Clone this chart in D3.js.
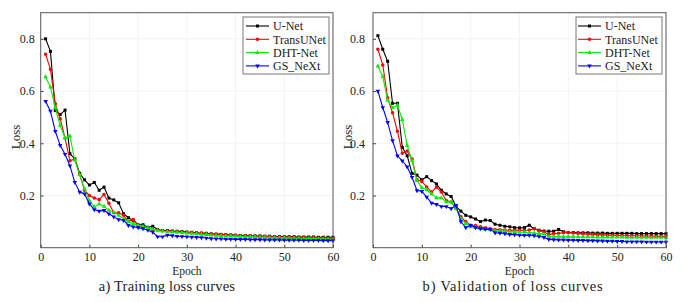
<!DOCTYPE html>
<html><head><meta charset="utf-8">
<script src="https://cdn.jsdelivr.net/npm/d3@7"></script>
<style>body{margin:0;background:#fff}svg{display:block}text{font-family:"Liberation Serif","Times New Roman",serif}</style>
</head><body>
<svg id="c" width="685" height="302"></svg>
<script>
const seriesNames = ["U-Net","TransUNet","DHT-Net","GS_NeXt"];
const epochs = d3.range(1,61);
const xTicks = [0,10,20,30,40,50,60];
const yTicks = [0.2,0.4,0.6,0.8];
const captions = ["a) Training loss curves","b) Validation of loss curves"];

const trainUNet = [0.800,0.752,0.525,0.510,0.527,0.360,0.340,0.285,0.260,0.240,0.250,0.220,0.232,0.190,0.183,0.172,0.130,0.115,0.104,0.088,0.088,0.078,0.082,0.070,0.066,0.066,0.064,0.063,0.062,0.060,0.059,0.057,0.056,0.055,0.053,0.052,0.051,0.050,0.049,0.048,0.047,0.047,0.046,0.045,0.045,0.044,0.044,0.043,0.043,0.042,0.042,0.042,0.041,0.041,0.041,0.041,0.040,0.040,0.040,0.040];
const trainTrans = [0.741,0.683,0.551,0.494,0.420,0.333,0.340,0.280,0.220,0.200,0.190,0.184,0.204,0.170,0.134,0.134,0.124,0.100,0.108,0.086,0.080,0.075,0.070,0.068,0.065,0.064,0.063,0.061,0.060,0.058,0.057,0.056,0.055,0.054,0.052,0.051,0.050,0.049,0.048,0.047,0.046,0.046,0.045,0.044,0.043,0.043,0.042,0.042,0.041,0.041,0.040,0.040,0.039,0.039,0.038,0.038,0.037,0.037,0.036,0.036];
const trainDHT = [0.654,0.615,0.536,0.468,0.420,0.427,0.335,0.280,0.225,0.180,0.156,0.168,0.158,0.143,0.136,0.124,0.110,0.100,0.092,0.086,0.082,0.076,0.071,0.066,0.063,0.062,0.060,0.059,0.058,0.056,0.055,0.053,0.051,0.050,0.048,0.047,0.046,0.045,0.045,0.044,0.043,0.042,0.042,0.041,0.040,0.040,0.039,0.039,0.038,0.038,0.037,0.036,0.036,0.035,0.035,0.034,0.034,0.033,0.033,0.032];
const trainGS = [0.561,0.523,0.446,0.392,0.358,0.314,0.250,0.213,0.206,0.168,0.146,0.140,0.143,0.130,0.118,0.108,0.105,0.086,0.080,0.077,0.073,0.067,0.060,0.042,0.042,0.048,0.046,0.044,0.043,0.042,0.041,0.040,0.039,0.037,0.035,0.034,0.034,0.033,0.033,0.032,0.032,0.032,0.031,0.031,0.031,0.030,0.030,0.030,0.030,0.029,0.029,0.029,0.029,0.028,0.028,0.028,0.028,0.027,0.027,0.027];

const valUNet = [0.812,0.760,0.714,0.553,0.553,0.384,0.352,0.285,0.278,0.260,0.272,0.257,0.244,0.220,0.206,0.196,0.158,0.140,0.124,0.118,0.110,0.100,0.106,0.104,0.090,0.086,0.082,0.080,0.077,0.076,0.077,0.086,0.073,0.067,0.064,0.063,0.063,0.070,0.061,0.058,0.058,0.057,0.057,0.057,0.056,0.056,0.056,0.055,0.055,0.055,0.055,0.055,0.055,0.054,0.054,0.054,0.054,0.054,0.054,0.054];
const valTrans = [0.760,0.700,0.574,0.517,0.446,0.362,0.370,0.340,0.260,0.254,0.232,0.213,0.232,0.213,0.181,0.175,0.150,0.118,0.100,0.086,0.085,0.080,0.076,0.073,0.070,0.069,0.068,0.067,0.067,0.067,0.067,0.068,0.073,0.065,0.061,0.050,0.054,0.055,0.057,0.058,0.056,0.055,0.053,0.052,0.051,0.050,0.049,0.048,0.048,0.047,0.047,0.046,0.046,0.046,0.045,0.045,0.045,0.044,0.044,0.044];
const valDHT = [0.695,0.655,0.565,0.536,0.546,0.490,0.392,0.333,0.257,0.230,0.222,0.206,0.191,0.191,0.175,0.175,0.150,0.111,0.092,0.080,0.077,0.073,0.071,0.070,0.065,0.064,0.063,0.062,0.061,0.060,0.059,0.058,0.056,0.054,0.052,0.043,0.043,0.043,0.042,0.042,0.042,0.041,0.041,0.041,0.041,0.040,0.040,0.040,0.040,0.040,0.040,0.039,0.039,0.039,0.039,0.039,0.039,0.039,0.039,0.039];
const valGS = [0.600,0.537,0.480,0.410,0.352,0.333,0.310,0.270,0.219,0.216,0.194,0.171,0.166,0.158,0.158,0.150,0.162,0.100,0.077,0.086,0.077,0.073,0.071,0.070,0.057,0.056,0.054,0.051,0.050,0.048,0.047,0.047,0.046,0.043,0.040,0.032,0.031,0.030,0.030,0.029,0.029,0.028,0.028,0.027,0.027,0.026,0.026,0.025,0.025,0.024,0.024,0.023,0.023,0.023,0.023,0.022,0.022,0.022,0.022,0.022];

const colors = ["#000000","#ff0000","#00ee00","#0000ff"];
const symbols = [d3.symbolSquare, d3.symbolCircle, d3.symbolTriangle, d3.symbolTriangle];
const symRot = [0,0,0,180];

const svg = d3.select("#c");

function panel(cfg){
  const x = d3.scaleLinear().domain([0,60]).range([cfg.x0, cfg.x1]);
  const y = d3.scaleLinear().domain([0,0.9]).range([247.7,12.7]);
  const g = svg.append("g");
  g.selectAll(".gx").data(xTicks.slice(1,-1)).join("line")
    .attr("x1",d=>x(d)).attr("x2",d=>x(d)).attr("y1",y(0)).attr("y2",y(0.9))
    .attr("stroke","#f3f3f3").attr("stroke-width",1);
  g.selectAll(".gy").data(yTicks).join("line")
    .attr("x1",x(0)).attr("x2",x(60)).attr("y1",d=>y(d)).attr("y2",d=>y(d))
    .attr("stroke","#f3f3f3").attr("stroke-width",1);

  const line = d3.line().x((d,i)=>x(epochs[i])).y(d=>y(d));
  cfg.series.forEach((s,k)=>{
    g.append("path").datum(s).attr("d",line).attr("fill","none")
      .attr("stroke",colors[k]).attr("stroke-width",1.1);
    const sym = d3.symbol().type(symbols[k]).size(k===1?10:9);
    g.selectAll(null).data(s).join("path")
      .attr("d",sym)
      .attr("transform",(d,i)=>`translate(${x(epochs[i])},${y(d)}) rotate(${symRot[k]})`)
      .attr("fill",colors[k]);
  });

  const ax = g.append("g").attr("transform",`translate(0,${y(0)})`)
    .call(d3.axisBottom(x).tickValues(xTicks).tickSizeInner(-3).tickSizeOuter(0).tickPadding(5).tickFormat(d3.format("d")));
  const ay = g.append("g").attr("transform",`translate(${x(0)},0)`)
    .call(d3.axisLeft(y).tickValues(yTicks).tickSizeInner(-3).tickSizeOuter(0).tickPadding(cfg.ypad).tickFormat(d3.format(".1f")));
  [ax,ay].forEach(a=>{
    a.select(".domain").remove();
    a.selectAll(".tick line").attr("stroke","#444");
    a.selectAll("text").attr("font-family","Liberation Serif").attr("font-size",12).attr("fill","#222");
  });
  g.append("rect").attr("x",x(0)).attr("y",y(0.9)).attr("width",x(60)-x(0)).attr("height",y(0)-y(0.9))
    .attr("fill","none").attr("stroke","#555").attr("stroke-width",1);

  g.append("text").attr("x",(cfg.x0+cfg.x1)/2).attr("y",275).attr("text-anchor","middle")
    .attr("font-size",11.5).attr("fill","#222").text("Epoch");
  g.append("text").attr("transform",`translate(${cfg.lossX},137) rotate(-90)`).attr("text-anchor","middle")
    .attr("font-size",13).attr("fill","#222").text("Loss");
  g.append("text").attr("x",cfg.capX).attr("y",291).attr("text-anchor","middle")
    .attr("font-size",14.5).attr("letter-spacing",cfg.capLs).attr("fill","#222").text(cfg.caption);

  const L = cfg.leg;
  g.append("rect").attr("x",L.x).attr("y",17).attr("width",L.w).attr("height",57)
    .attr("fill","#fff").attr("stroke","#777").attr("stroke-width",1);
  seriesNames.forEach((n,k)=>{
    const yy = 26 + k*13.3;
    g.append("line").attr("x1",L.lx1).attr("x2",L.lx2).attr("y1",yy).attr("y2",yy)
      .attr("stroke",colors[k]).attr("stroke-width",1.1);
    g.append("path").attr("d",d3.symbol().type(symbols[k]).size(k===1?10:9)())
      .attr("transform",`translate(${(L.lx1+L.lx2)/2},${yy}) rotate(${symRot[k]})`).attr("fill",colors[k]);
    g.append("text").attr("x",L.tx).attr("y",yy).attr("dy","0.35em")
      .attr("font-size",12).attr("fill","#222").text(n);
  });
}

panel({x0:40.7,x1:333,series:[trainUNet,trainTrans,trainDHT,trainGS],ypad:6,lossX:20,capX:167,capLs:0.2,caption:captions[0],
  leg:{x:243,w:86,lx1:246,lx2:269,tx:273}});
panel({x0:373,x1:666,series:[valUNet,valTrans,valDHT,valGS],ypad:8,lossX:352,capX:513,capLs:0.8,caption:captions[1],
  leg:{x:576,w:86,lx1:578,lx2:601,tx:605}});
</script>
</body></html>
